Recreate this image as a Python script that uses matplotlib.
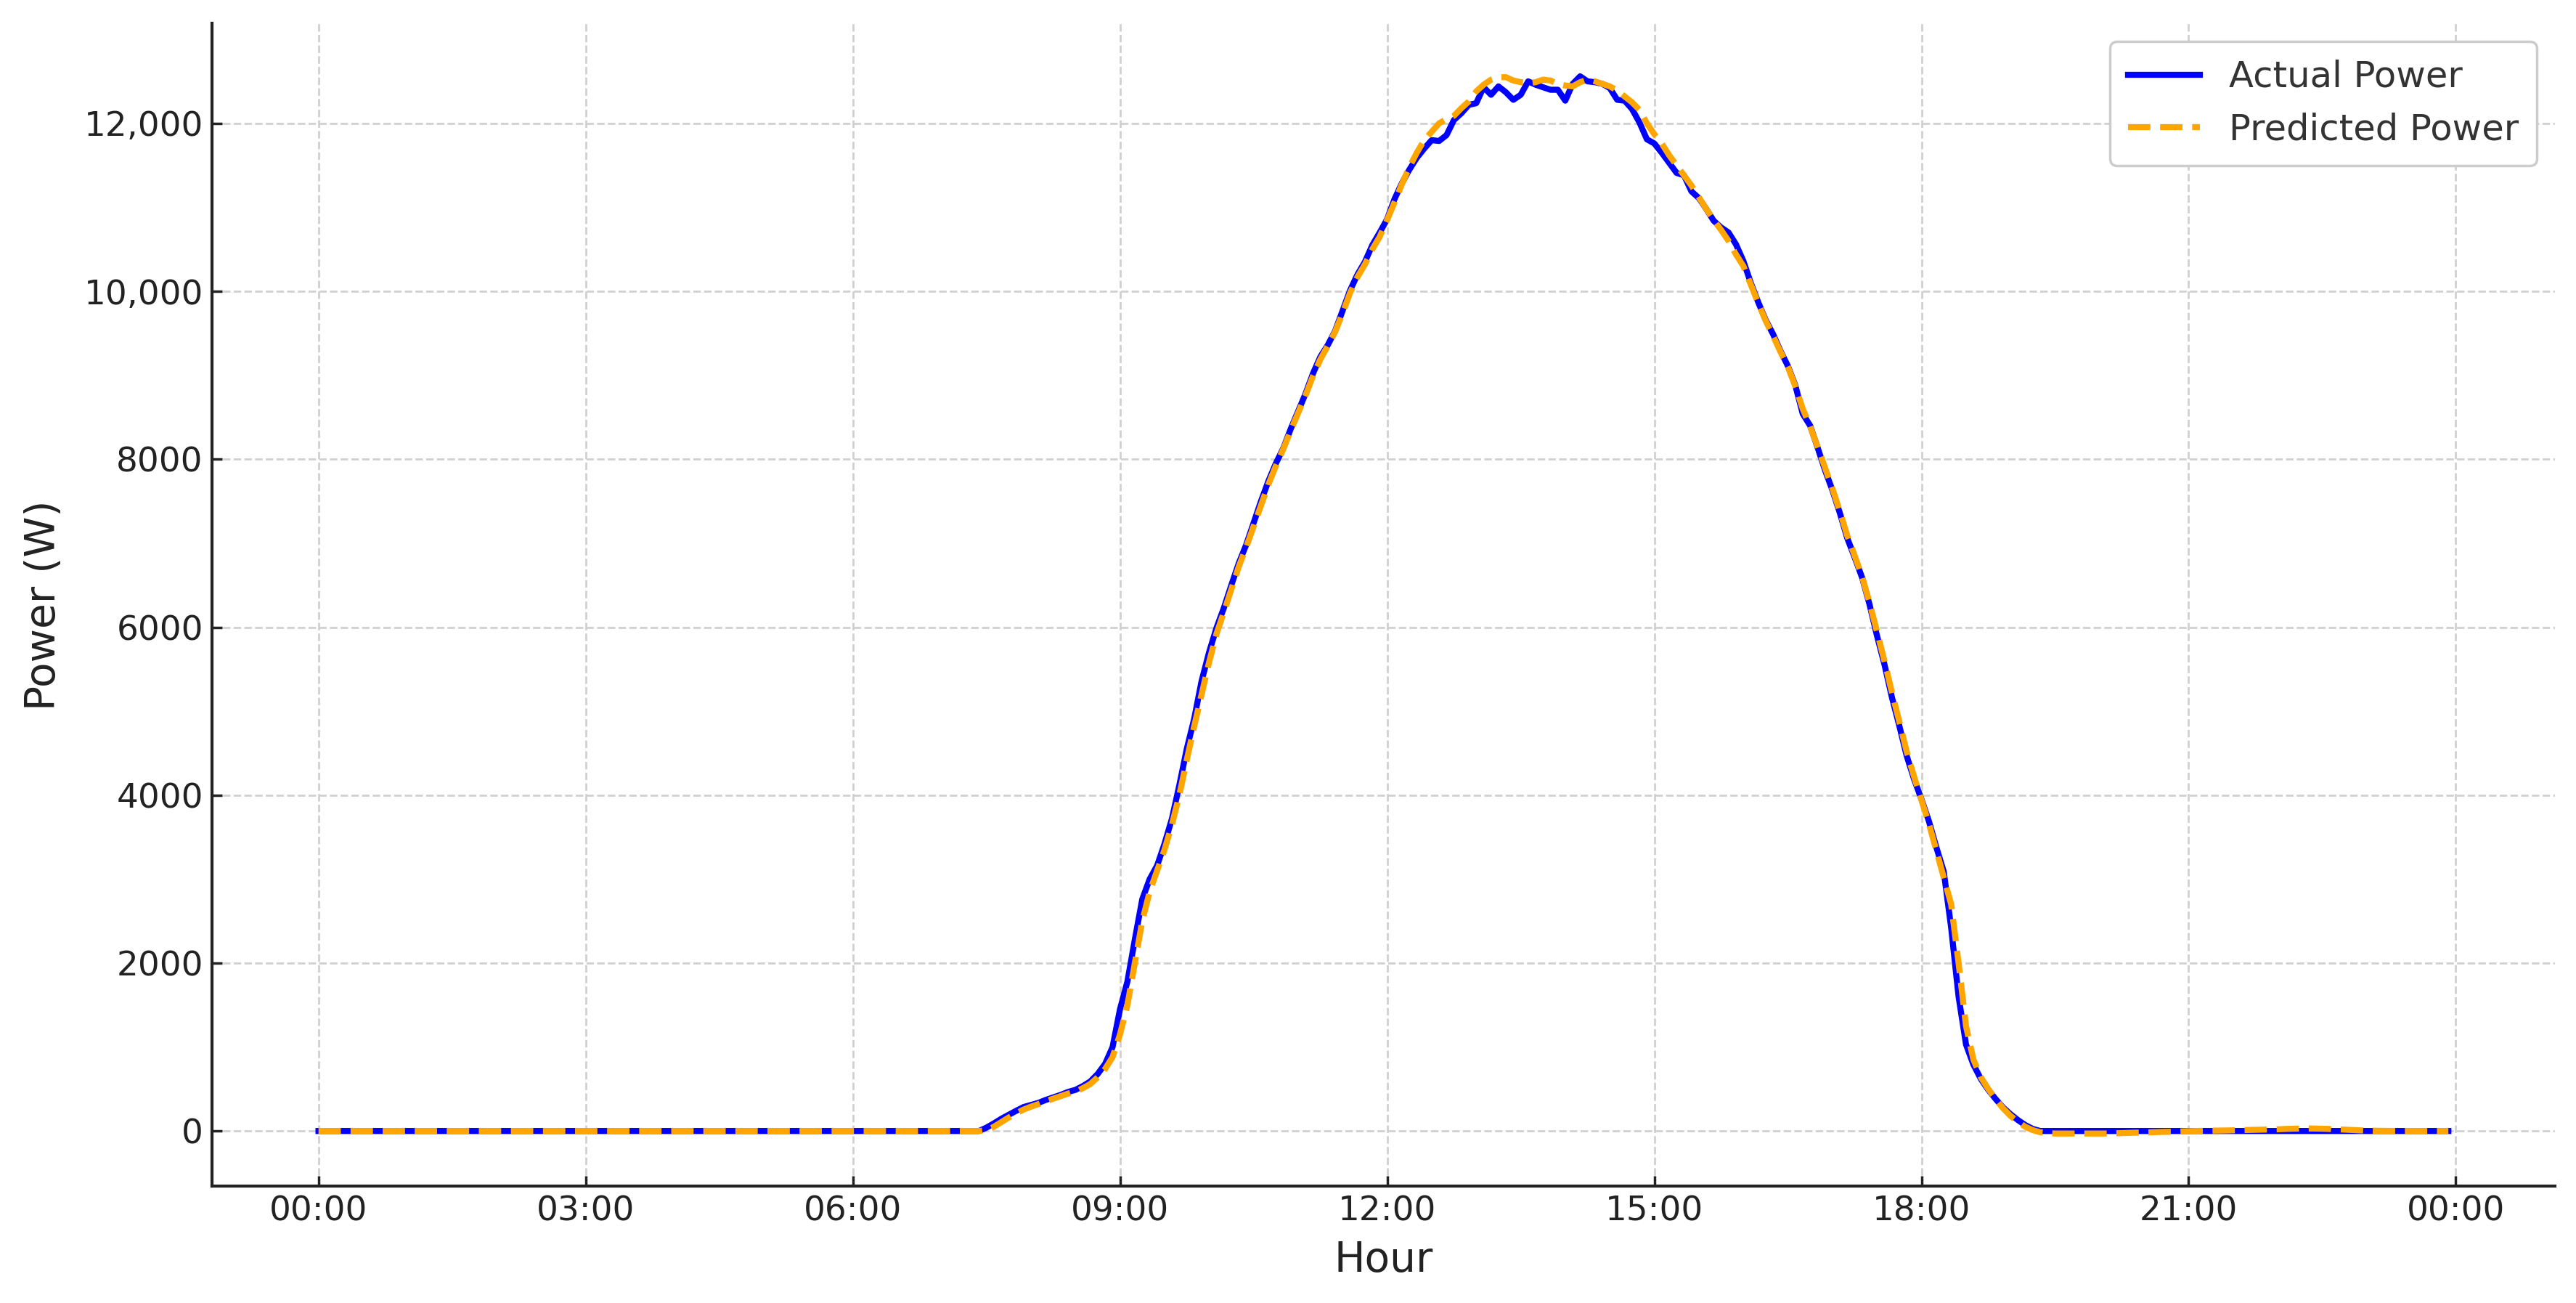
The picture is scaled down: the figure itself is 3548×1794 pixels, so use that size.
import matplotlib
matplotlib.use("Agg")
import matplotlib.pyplot as plt
import matplotlib.dates as mdates
from matplotlib.ticker import FuncFormatter
import pandas as pd

# 5-minute samples over one day, one row per hour (minutes 00..55)
actual_power = [
    0, 0, 0, 0, 0, 0, 0, 0, 0, 0, 0, 0,  # 00
    0, 0, 0, 0, 0, 0, 0, 0, 0, 0, 0, 0,  # 01
    0, 0, 0, 0, 0, 0, 0, 0, 0, 0, 0, 0,  # 02
    0, 0, 0, 0, 0, 0, 0, 0, 0, 0, 0, 0,  # 03
    0, 0, 0, 0, 0, 0, 0, 0, 0, 0, 0, 0,  # 04
    0, 0, 0, 0, 0, 0, 0, 0, 0, 0, 0, 0,  # 05
    0, 0, 0, 0, 0, 0, 0, 0, 0, 0, 0, 0,  # 06
    0, 0, 0, 0, 0, 0, 40, 90, 145, 193, 240, 285,  # 07
    310, 335, 370, 400, 430, 465, 490, 535, 590, 680, 800, 1000,  # 08
    1450, 1780, 2280, 2760, 3000, 3160, 3420, 3720, 4120, 4550, 4910, 5360,  # 09
    5700, 5990, 6230, 6500, 6760, 6980, 7240, 7500, 7740, 7950, 8130, 8360,  # 10
    8570, 8780, 9020, 9220, 9360, 9530, 9770, 10010, 10200, 10350, 10550, 10700,  # 11
    10860, 11100, 11290, 11450, 11590, 11700, 11800, 11790, 11860, 12040, 12120, 12220,  # 12
    12240, 12430, 12340, 12440, 12370, 12280, 12340, 12500, 12460, 12430, 12400, 12400,  # 13
    12270, 12470, 12560, 12500, 12490, 12470, 12420, 12280, 12270, 12170, 12010, 11810,  # 14
    11760, 11650, 11530, 11410, 11380, 11190, 11110, 10980, 10840, 10760, 10700, 10560,  # 15
    10360, 10100, 9870, 9660, 9490, 9290, 9110, 8880, 8540, 8400, 8140, 7870,  # 16
    7630, 7360, 7060, 6830, 6590, 6270, 5900, 5560, 5170, 4830, 4470, 4190,  # 17
    3950, 3690, 3380, 3090, 2420, 1600, 1030, 790, 620, 490, 380, 280,  # 18
    200, 130, 70, 25, 0, 0, 0, 0, 0, 0, 0, 0,  # 19
    0, 0, 0, 0, 0, 0, 0, 0, 0, 0, 0, 0,  # 20
    0, 0, 0, 0, 0, 0, 0, 0, 0, 0, 0, 0,  # 21
    0, 0, 0, 0, 0, 0, 0, 0, 0, 0, 0, 0,  # 22
    0, 0, 0, 0, 0, 0, 0, 0, 0, 0, 0, 0,  # 23
]

predicted_power = [
    0, 0, 0, 0, 0, 0, 0, 0, 0, 0, 0, 0,  # 00
    0, 0, 0, 0, 0, 0, 0, 0, 0, 0, 0, 0,  # 01
    0, 0, 0, 0, 0, 0, 0, 0, 0, 0, 0, 0,  # 02
    0, 0, 0, 0, 0, 0, 0, 0, 0, 0, 0, 0,  # 03
    0, 0, 0, 0, 0, 0, 0, 0, 0, 0, 0, 0,  # 04
    0, 0, 0, 0, 0, 0, 0, 0, 0, 0, 0, 0,  # 05
    0, 0, 0, 0, 0, 0, 0, 0, 0, 0, 0, 0,  # 06
    0, 0, 0, 0, 0, 0, 10, 50, 105, 160, 210, 255,  # 07
    290, 320, 355, 385, 415, 445, 470, 510, 560, 640, 740, 880,  # 08
    1150, 1500, 2000, 2500, 2850, 3100, 3350, 3650, 4000, 4420, 4820, 5200,  # 09
    5580, 5920, 6180, 6450, 6720, 6950, 7200, 7450, 7700, 7920, 8120, 8340,  # 10
    8550, 8760, 8990, 9190, 9350, 9520, 9740, 9980, 10170, 10320, 10500, 10650,  # 11
    10850, 11060, 11280, 11480, 11650, 11800, 11900, 12000, 12050, 12090, 12180, 12260,  # 12
    12380, 12460, 12520, 12550, 12550, 12510, 12490, 12480, 12490, 12520, 12510, 12470,  # 13
    12450, 12440, 12490, 12520, 12500, 12470, 12440, 12390, 12320, 12250, 12160, 12000,  # 14
    11870, 11760, 11620, 11500, 11380, 11260, 11120, 10980, 10850, 10730, 10600, 10440,  # 15
    10300, 10080, 9860, 9650, 9470, 9280, 9100, 8870, 8600, 8390, 8150, 7900,  # 16
    7650, 7380, 7090, 6850, 6600, 6290, 5950, 5600, 5230, 4880, 4520, 4220,  # 17
    3940, 3660, 3340, 3020, 2700, 2000, 1250, 850, 640, 500, 380, 270,  # 18
    180, 110, 50, 10, -15, -25, -30, -30, -30, -30, -30, -30,  # 19
    -30, -30, -28, -25, -22, -20, -18, -15, -12, -10, -8, -5,  # 20
    -2, 0, 2, 4, 5, 6, 8, 10, 12, 14, 16, 18,  # 21
    20, 24, 27, 29, 30, 29, 27, 24, 20, 16, 12, 8,  # 22
    5, 3, 2, 1, 0, 0, 0, 0, 0, 0, 0, 0,  # 23
]

times = pd.date_range("2024-06-01 00:00", periods=len(actual_power), freq="5min")

plt.rcParams['font.family'] = ['DejaVu Sans']

fig = plt.figure(figsize=(14.192, 7.176), dpi=250)
ax = fig.add_axes([0.0823, 0.0895, 0.9095, 0.8925])

ax.plot(times, actual_power, color='blue', linewidth=2.4, label='Actual Power')
ax.plot(times, predicted_power, color='orange', linewidth=2.4, linestyle='--', label='Predicted Power')

ax.set_xlabel('Hour', fontsize=16.3, color='#222222', labelpad=5)
ax.set_ylabel('Power (W)', fontsize=16.3, color='#222222', labelpad=8)

ax.xaxis.set_major_locator(mdates.HourLocator(byhour=range(0, 24, 3)))
ax.xaxis.set_major_formatter(mdates.DateFormatter('%H:%M'))
ax.yaxis.set_major_formatter(FuncFormatter(lambda v, p: f'{v:,.0f}' if abs(v) >= 10000 else f'{v:.0f}'))

ax.tick_params(axis='both', direction='in', labelsize=13.5, length=4, width=1, colors='#222222')
ax.grid(True, linestyle='--', color='#d0d0d0', linewidth=0.8)
ax.set_axisbelow(True)

for side in ['top', 'right']:
    ax.spines[side].set_visible(False)
for side in ['left', 'bottom']:
    ax.spines[side].set_linewidth(1.2)
    ax.spines[side].set_color('#222222')

leg = ax.legend(loc='upper right', fontsize=14.3, fancybox=True, framealpha=1,
                edgecolor='#cccccc', borderpad=0.5)
for t in leg.get_texts():
    t.set_color('#333333')

fig.savefig('out.png', dpi=250)
